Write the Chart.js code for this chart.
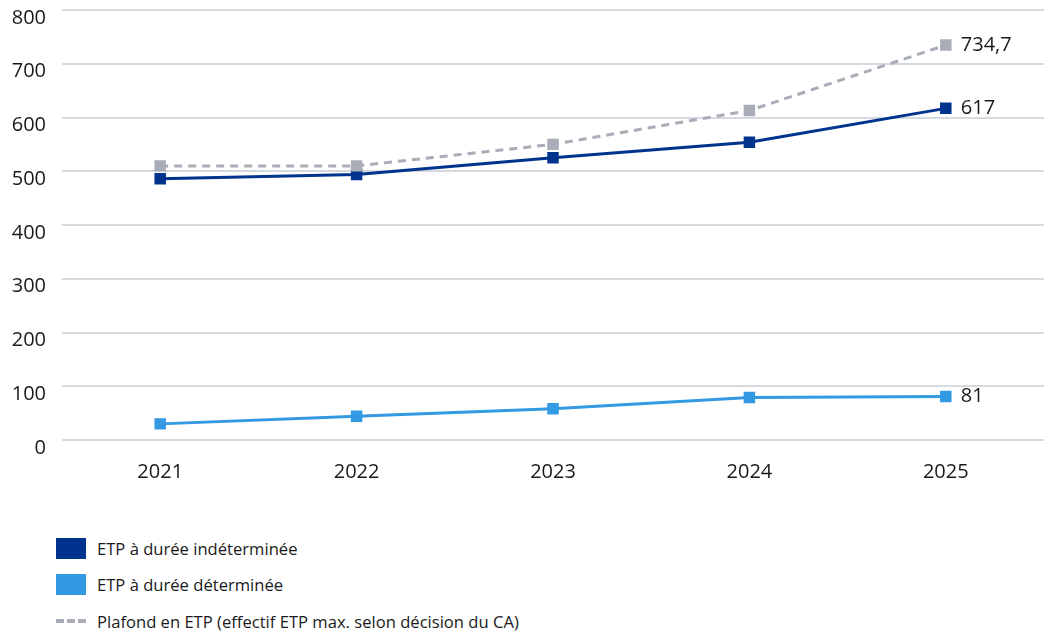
<!DOCTYPE html>
<html lang="fr">
<head>
<meta charset="utf-8">
<title>ETP 2021-2025</title>
<script src="https://cdn.jsdelivr.net/npm/chart.js@4/dist/chart.umd.min.js"></script>
<style>
    html, body { margin: 0; padding: 0; background: #ffffff; }
    body { width: 1044px; height: 633px; overflow: hidden; font-family: "Open Sans", sans-serif; color: #1a1a1a; }
    #wrap { position: relative; width: 1044px; height: 496px; }
    #legend { position: absolute; left: 56px; top: 530px; }
    .row { display: flex; align-items: center; height: 36.5px; font-size: 16.6px; }
    .box { width: 30px; height: 21px; margin-right: 11px; }
    .dash { width: 30px; height: 0; border-top: 4px dashed #a9adb8; margin-right: 11px; }
</style>
</head>
<body>
<div id="wrap"><canvas id="etpChart"></canvas></div>
<div id="legend"></div>

<script>
const years = ["2021", "2022", "2023", "2024", "2025"];
const permanent = [486, 494, 525, 554, 617];
const temporary = [30, 44, 58, 79, 81];
const ceiling = [510, 510, 550, 613, 734.7];
const yTicks = [0, 100, 200, 300, 400, 500, 600, 700, 800];

const darkBlue = "#00338d";
const lightBlue = "#3399e3";
const grey = "#a9adb8";

// value written next to the last point of each line
const endLabels = {
    id: "endLabels",
    afterDatasetsDraw(chart) {
        const ctx = chart.ctx;
        ctx.save();
        ctx.font = "20px 'Open Sans'";
        ctx.fillStyle = "#1a1a1a";
        ctx.textBaseline = "middle";
        chart.data.datasets.forEach((ds, i) => {
            const meta = chart.getDatasetMeta(i);
            const last = meta.data[meta.data.length - 1];
            const v = ds.data[ds.data.length - 1];
            ctx.fillText(String(v).replace(".", ","), last.x + 15, last.y);
        });
        ctx.restore();
    }
};

const ctx = document.getElementById("etpChart");

new Chart(ctx, {
    type: "line",
    data: {
        labels: years,
        datasets: [{
            label: "Plafond en ETP (effectif ETP max. selon décision du CA)",
            data: ceiling,
            borderColor: grey,
            backgroundColor: grey,
            borderWidth: 3,
            borderDash: [8, 6],
            pointStyle: "rect",
            pointRadius: 6,
            pointHoverRadius: 6
        }, {
            label: "ETP à durée indéterminée",
            data: permanent,
            borderColor: darkBlue,
            backgroundColor: darkBlue,
            borderWidth: 3,
            pointStyle: "rect",
            pointRadius: 6,
            pointHoverRadius: 6
        }, {
            label: "ETP à durée déterminée",
            data: temporary,
            borderColor: lightBlue,
            backgroundColor: lightBlue,
            borderWidth: 3,
            pointStyle: "rect",
            pointRadius: 6,
            pointHoverRadius: 6
        }]
    },
    options: {
        responsive: true,
        maintainAspectRatio: false,
        animation: false,
        layout: { autoPadding: false, padding: { top: 10, right: 0, bottom: 0, left: 0 } },
        plugins: {
            legend: { display: false },
            tooltip: { enabled: false }
        },
        scales: {
            x: {
                offset: true,
                afterFit(scale) {
                    scale.paddingLeft = 0;
                    scale.paddingRight = 0;
                },
                grid: { display: false },
                border: { display: false },
                ticks: { color: "#1a1a1a", font: { family: "Open Sans", size: 20 }, padding: 12 }
            },
            y: {
                min: 0,
                max: 800,
                afterBuildTicks(scale) {
                    scale.ticks = yTicks.map(v => ({ value: v }));
                },
                afterFit(scale) {
                    scale.width = 62;
                    scale.paddingTop = 0;
                    scale.paddingBottom = 0;
                },
                grid: { color: "#d6d9df", lineWidth: 2, drawTicks: false },
                border: { display: false },
                ticks: {
                    color: "#1a1a1a",
                    font: { family: "Open Sans", size: 20 },
                    padding: 16,
                    labelOffset: 8
                }
            }
        }
    },
    plugins: [endLabels]
});

// legend below the chart
const legendItems = [
    { text: "ETP à durée indéterminée", color: darkBlue, kind: "box" },
    { text: "ETP à durée déterminée", color: lightBlue, kind: "box" },
    { text: "Plafond en ETP (effectif ETP max. selon décision du CA)", color: grey, kind: "dash" }
];
const legend = document.getElementById("legend");
legendItems.forEach(item => {
    const row = document.createElement("div");
    row.className = "row";
    const mark = document.createElement("span");
    mark.className = item.kind;
    if (item.kind === "box") mark.style.background = item.color;
    const label = document.createElement("span");
    label.textContent = item.text;
    row.appendChild(mark);
    row.appendChild(label);
    legend.appendChild(row);
});
</script>
</body>
</html>
